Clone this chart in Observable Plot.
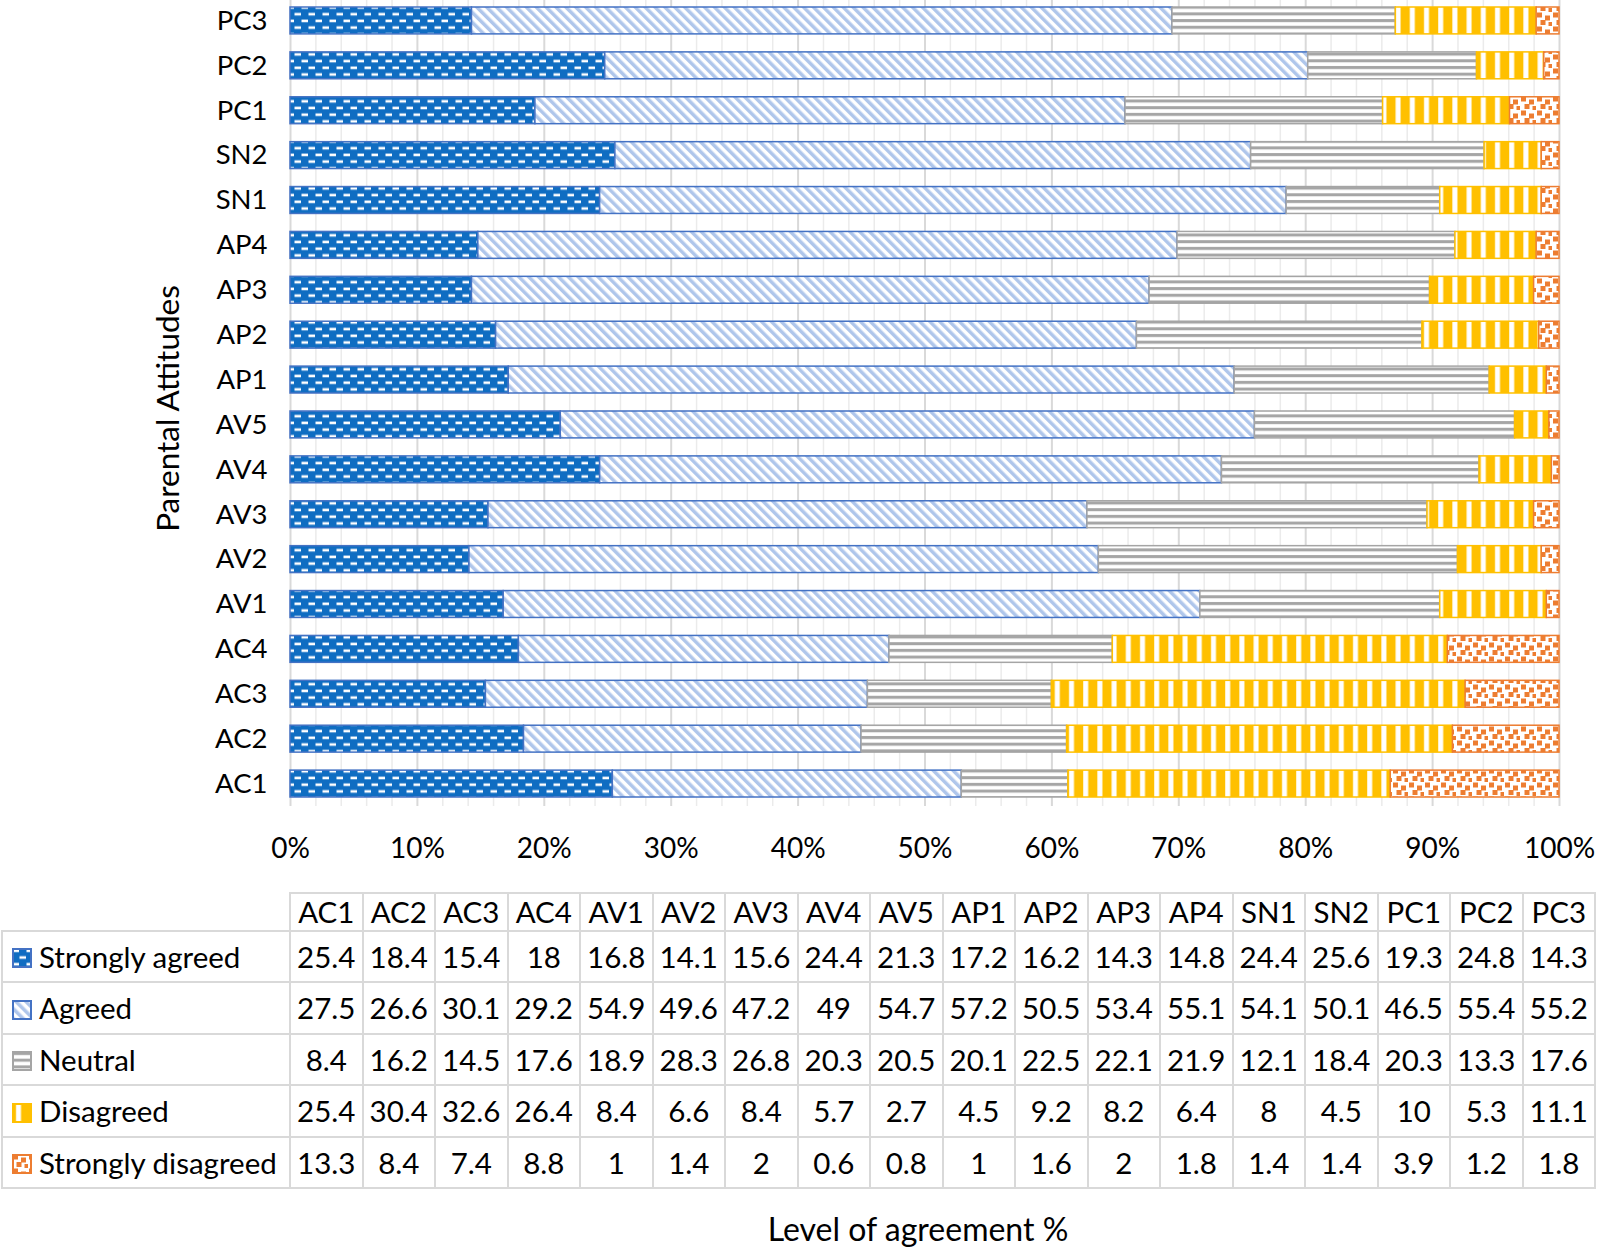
<!DOCTYPE html>
<html><head><meta charset="utf-8">
<script src="https://cdn.jsdelivr.net/npm/d3@7"></script>
<script src="https://cdn.jsdelivr.net/npm/@observablehq/plot@0.6"></script>
<style>
html,body{margin:0;padding:0;background:#fff;}
#wrap{position:relative;width:1597px;height:1249px;overflow:hidden;font-family:Lato,sans-serif;color:#000;}
#chart{position:absolute;left:0;top:-2px;}
#tbl{position:absolute;left:1px;top:892px;border-collapse:collapse;table-layout:fixed;font-size:29.5px;font-family:Lato,sans-serif;}
#tbl td{border:2px solid #d9d9d9;text-align:center;padding:0;white-space:nowrap;line-height:1;overflow:visible;}
#tbl tr.h td{height:36px;}
#tbl tr.d td{height:49.4px;}
#tbl td.lab{text-align:left;padding-left:9px;}
#tbl td.blank{border-top:none;border-left:none;}
.key{display:inline-block;vertical-align:middle;width:20px;height:20px;margin-right:7px;position:relative;top:-2px;}
#xtitle{position:absolute;left:918px;top:1213px;transform:translateX(-50%);font-size:32px;line-height:32px;white-space:nowrap;}
</style></head>
<body>
<svg width="0" height="0" style="position:absolute">
<defs>
<pattern id="pSA" width="14" height="13.4" patternUnits="userSpaceOnUse">
<rect width="14" height="13.4" fill="#0F6DC2"/>
<rect x="0.5" y="1.5" width="6.5" height="2.6" fill="#fff"/>
<rect x="7.5" y="8.2" width="6.5" height="2.6" fill="#fff"/>
</pattern>
<pattern id="pA" width="7" height="7" patternUnits="userSpaceOnUse" patternTransform="rotate(-45)">
<rect width="7" height="7" fill="#fff"/>
<rect x="0" y="0" width="3.5" height="7" fill="#AFC6EB"/>
</pattern>
<pattern id="pN" width="10" height="6.7" patternUnits="userSpaceOnUse">
<rect width="10" height="6.7" fill="#fff"/>
<rect x="0" y="1" width="10" height="3" fill="#A5A5A5"/>
</pattern>
<pattern id="pD" width="14.2" height="10" patternUnits="userSpaceOnUse">
<rect width="14.2" height="10" fill="#FFC000"/>
<rect x="4" y="0" width="5" height="10" fill="#fff"/>
</pattern>
<pattern id="pSD" width="16" height="14" patternUnits="userSpaceOnUse">
<rect width="16" height="14" fill="#fff"/>
<rect x="1" y="0.5" width="5" height="5" fill="#ED7D31"/>
<rect x="9" y="3.5" width="5" height="5" fill="#ED7D31"/>
<rect x="4.5" y="8" width="5" height="5" fill="#ED7D31"/>
<rect x="12.5" y="10" width="5" height="5" fill="#ED7D31"/>
</pattern>
</defs>
</svg>
<div id="wrap">
<div id="chart"></div>
<table id="tbl"></table>
<div id="xtitle">Level of agreement %</div>
</div>
<script>
// ---- data ----
const items = ["AC1","AC2","AC3","AC4","AV1","AV2","AV3","AV4","AV5","AP1","AP2","AP3","AP4","SN1","SN2","PC1","PC2","PC3"];
const seriesNames = ["Strongly agreed","Agreed","Neutral","Disagreed","Strongly disagreed"];
const stronglyAgreed = [25.4,18.4,15.4,18,16.8,14.1,15.6,24.4,21.3,17.2,16.2,14.3,14.8,24.4,25.6,19.3,24.8,14.3];
const agreed = [27.5,26.6,30.1,29.2,54.9,49.6,47.2,49,54.7,57.2,50.5,53.4,55.1,54.1,50.1,46.5,55.4,55.2];
const neutral = [8.4,16.2,14.5,17.6,18.9,28.3,26.8,20.3,20.5,20.1,22.5,22.1,21.9,12.1,18.4,20.3,13.3,17.6];
const disagreed = [25.4,30.4,32.6,26.4,8.4,6.6,8.4,5.7,2.7,4.5,9.2,8.2,6.4,8,4.5,10,5.3,11.1];
const stronglyDisagreed = [13.3,8.4,7.4,8.8,1,1.4,2,0.6,0.8,1,1.6,2,1.8,1.4,1.4,3.9,1.2,1.8];
const xTickValues = [0,10,20,30,40,50,60,70,80,90,100];
const yTitle = "Parental Attitudes";

// ---- styles ----
const seriesValues = [stronglyAgreed, agreed, neutral, disagreed, stronglyDisagreed];
const fills = ["url(#pSA)","url(#pA)","url(#pN)","url(#pD)","url(#pSD)"];
const strokes = ["#4472C4","#4472C4","#A5A5A5","#FFC000","#ED7D31"];

const rows = [];
items.forEach((it, i) => {
  const total = d3.sum(seriesValues, s => s[i]);
  let acc = 0;
  seriesValues.forEach((s, j) => {
    const v = s[i] / total;
    rows.push({item: it, series: seriesNames[j], x1: acc, x2: acc + v});
    acc += v;
  });
});

const majorTicks = xTickValues.map(v => v / 100);
const minorTicks = d3.range(0, 101, 2).filter(v => v % 10 !== 0).map(v => v / 100);

const plot = Plot.plot({
  width: 1597,
  height: 880,
  marginLeft: 290,
  marginRight: 38,
  marginTop: 0,
  marginBottom: 72,
  style: {fontFamily: "Lato, sans-serif", color: "#000", background: "transparent"},
  x: {domain: [0, 1]},
  y: {domain: items.slice().reverse(), padding: 0, round: false},
  marks: [
    Plot.ruleX(minorTicks, {stroke: "#ebebeb", strokeWidth: 1.5}),
    Plot.ruleX(majorTicks, {stroke: "#d9d9d9", strokeWidth: 2}),
    ...seriesNames.map((name, j) => Plot.barX(rows.filter(r => r.series === name), {
      x1: "x1", x2: "x2", y: "item", fill: fills[j], stroke: strokes[j], strokeWidth: 1.5,
      insetTop: 9, insetBottom: 9
    })),
    Plot.axisY({tickSize: 0, tickPadding: 23, fontSize: 27.5, label: null}),
    Plot.axisX({ticks: majorTicks, tickFormat: d => Math.round(d * 100) + "%", tickSize: 0, tickPadding: 32, fontSize: 28, label: null}),
    Plot.text([yTitle], {frameAnchor: "left", textAnchor: "middle", rotate: -90, dx: -122, dy: 6, fontSize: 31.5, fill: "#000"})
  ]
});
document.getElementById("chart").appendChild(plot);

// ---- table ----
function keySvg(j) {
  return `<svg class="key" viewBox="0 0 20 20"><rect x="1" y="1" width="18" height="18" fill="${fills[j]}" stroke="${strokes[j]}" stroke-width="2"/></svg>`;
}
let html = `<colgroup><col style="width:288px">${items.map(() => '<col style="width:72.5px">').join("")}</colgroup>`;
html += `<tr class="h"><td class="blank"></td>${items.map(it => `<td>${it}</td>`).join("")}</tr>`;
seriesNames.forEach((name, j) => {
  html += `<tr class="d"><td class="lab">${keySvg(j)}${name}</td>${seriesValues[j].map(v => `<td>${v}</td>`).join("")}</tr>`;
});
document.getElementById("tbl").innerHTML = html;
</script>
</body></html>
